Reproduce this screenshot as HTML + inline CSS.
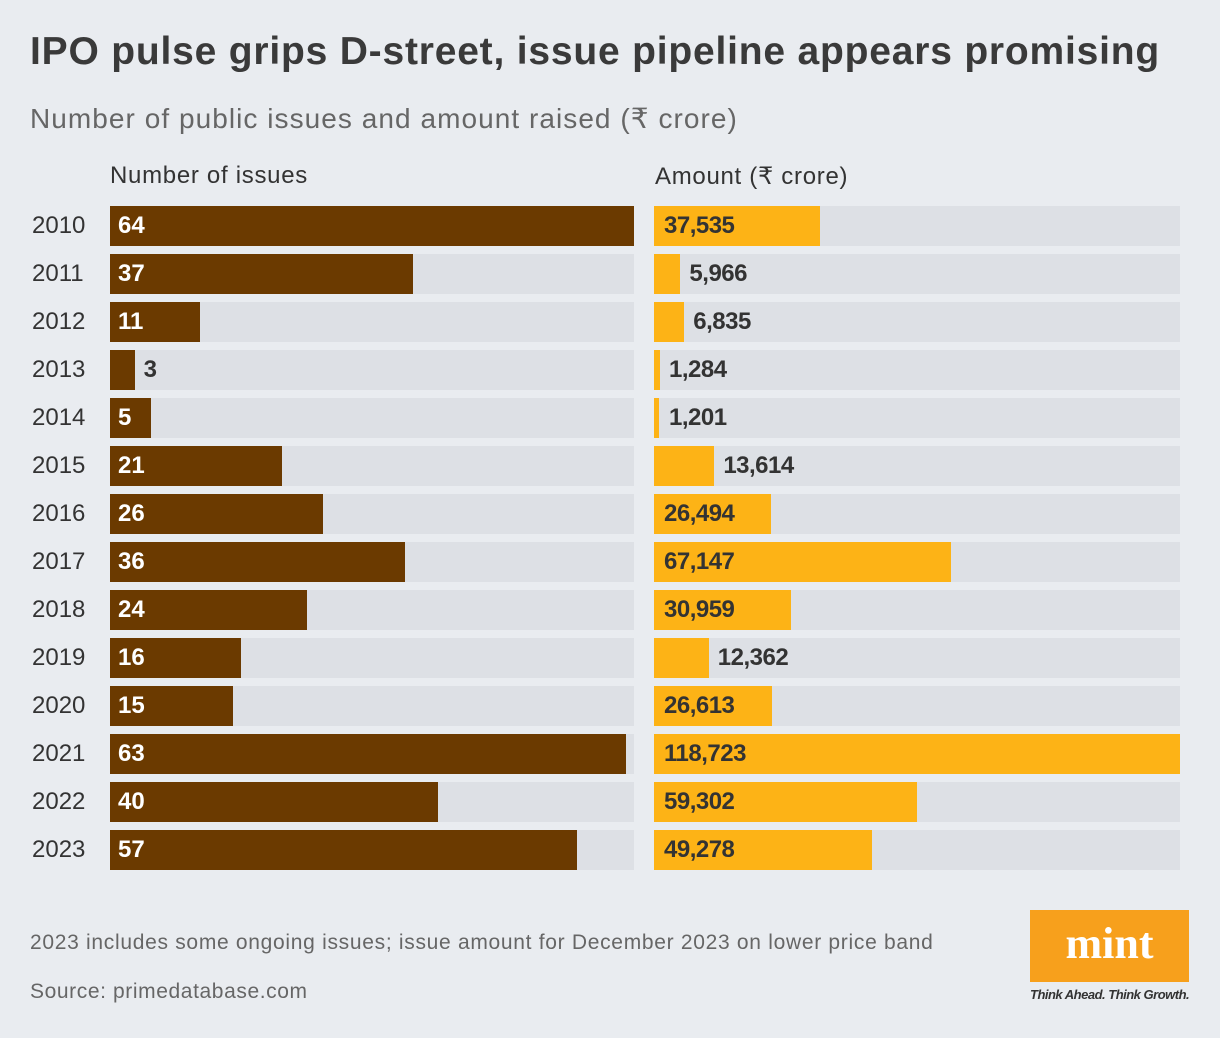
<!DOCTYPE html>
<html><head><meta charset="utf-8"><style>
body{margin:0;width:1220px;height:1038px;background:#e9ecf0;font-family:"Liberation Sans",sans-serif;position:relative;overflow:hidden;color:#333}
.a{position:absolute;white-space:nowrap}
</style></head><body>
<div class="a" style="left:30px;top:30px;font-size:39px;font-weight:bold;color:#3a3a3a;letter-spacing:0.8px">IPO pulse grips D-street, issue pipeline appears promising</div>
<div class="a" style="left:30px;top:102px;font-size:28px;color:#666;letter-spacing:1.05px">Number of public issues and amount raised (₹ crore)</div>
<div class="a" style="left:110px;top:162px;font-size:24px;color:#333;letter-spacing:0.7px">Number of issues</div>
<div class="a" style="left:655px;top:162px;font-size:24px;color:#333;letter-spacing:0.7px">Amount (₹ crore)</div>
<div id="chart"></div>
<div class="a" style="left:30px;top:931px;font-size:21px;color:#666;letter-spacing:0.7px">2023 includes some ongoing issues; issue amount for December 2023 on lower price band</div>
<div class="a" style="left:30px;top:980px;font-size:21px;color:#666;letter-spacing:0.6px">Source: primedatabase.com</div>
<div class="a" style="left:1030px;top:910px;width:159px;height:72px;background:#f7a01c;color:#fff;font-family:'Liberation Serif',serif;font-weight:bold;font-size:44px;text-align:center;line-height:68px">mint</div>
<div class="a" style="left:1030px;top:987px;font-size:13px;font-style:italic;font-weight:bold;color:#333;letter-spacing:-0.5px">Think Ahead. Think Growth.</div>
<script>
const years=[2010,2011,2012,2013,2014,2015,2016,2017,2018,2019,2020,2021,2022,2023];
const issues=[64,37,11,3,5,21,26,36,24,16,15,63,40,57];
const amounts=[37535,5966,6835,1284,1201,13614,26494,67147,30959,12362,26613,118723,59302,49278];
const issuesMax=64, amountMax=118723;
const c=document.getElementById('chart');
function xL(v){return v/issuesMax*524;}
function xR(v){return v/amountMax*526;}
function mk(style,txt){const d=document.createElement('div');d.className='a';d.style.cssText=style;if(txt!=null)d.textContent=txt;c.appendChild(d);return d;}
function tw(s){return s.length*13.5;}
years.forEach((y,i)=>{
  const top=206+i*48;
  let e=mk(`left:32px;top:${top+6}px;font-size:24px;color:#333`,String(y));
  
  
  e=mk(`left:110px;top:${top}px;width:524px;height:40px;background:#dde0e5`);
  
  
  const wl=xL(issues[i]);
  e=mk(`left:110px;top:${top}px;width:${wl}px;height:40px;background:#6b3a00`);
  
  
  const sl=String(issues[i]);
  const inL=wl>tw(sl)+14;
  e=mk(`left:${inL?118:110+wl+9}px;top:${top+6}px;font-size:24px;font-weight:bold;color:${inL?'#fff':'#333'}`,sl);
  
  
  e=mk(`left:654px;top:${top}px;width:526px;height:40px;background:#dde0e5`);
  
  
  const wr=xR(amounts[i]);
  e=mk(`left:654px;top:${top}px;width:${wr}px;height:40px;background:#fdb316`);
  
  
  const sr=amounts[i].toLocaleString('en-US');
  const inR=wr>tw(sr)+14;
  e=mk(`left:${inR?664:654+Math.max(wr,6)+9}px;top:${top+6}px;font-size:24px;font-weight:bold;color:#333;letter-spacing:-0.5px`,sr);
  
  
});
</script>
</body></html>
